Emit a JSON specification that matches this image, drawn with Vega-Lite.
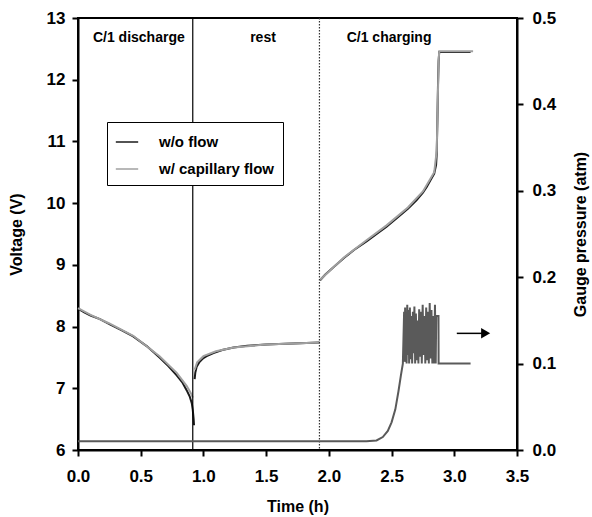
{
  "$schema": "https://vega.github.io/schema/vega-lite/v6.json",
  "width": 439,
  "height": 432,
  "autosize": {"type": "none"},
  "padding": {"left": 78, "top": 18, "right": 75, "bottom": 67},
  "background": "white",
  "config": {
    "font": "Liberation Sans",
    "view": {"stroke": "black", "strokeWidth": 2},
    "axis": {
      "grid": false,
      "domainColor": "black",
      "domainWidth": 2,
      "tickColor": "black",
      "tickWidth": 2,
      "tickSize": 6,
      "labelFont": "Liberation Sans",
      "labelFontSize": 17,
      "labelFontWeight": "bold",
      "labelColor": "black",
      "labelPadding": 7,
      "labelFlush": false,
      "titleFont": "Liberation Sans",
      "titleFontSize": 16,
      "titleFontWeight": "bold",
      "titleColor": "black"
    }
  },
  "datasets": {
    "voltage": [
      {"t": 0.0, "v": 8.29, "series": "w/o flow", "seg": 1},
      {"t": 0.05, "v": 8.23, "series": "w/o flow", "seg": 1},
      {"t": 0.1, "v": 8.18, "series": "w/o flow", "seg": 1},
      {"t": 0.175, "v": 8.12, "series": "w/o flow", "seg": 1},
      {"t": 0.25, "v": 8.04, "series": "w/o flow", "seg": 1},
      {"t": 0.35, "v": 7.94, "series": "w/o flow", "seg": 1},
      {"t": 0.44, "v": 7.84, "series": "w/o flow", "seg": 1},
      {"t": 0.55, "v": 7.68, "series": "w/o flow", "seg": 1},
      {"t": 0.65, "v": 7.5, "series": "w/o flow", "seg": 1},
      {"t": 0.72, "v": 7.36, "series": "w/o flow", "seg": 1},
      {"t": 0.787, "v": 7.21, "series": "w/o flow", "seg": 1},
      {"t": 0.83, "v": 7.1, "series": "w/o flow", "seg": 1},
      {"t": 0.866, "v": 6.97, "series": "w/o flow", "seg": 1},
      {"t": 0.89, "v": 6.87, "series": "w/o flow", "seg": 1},
      {"t": 0.907, "v": 6.76, "series": "w/o flow", "seg": 1},
      {"t": 0.915, "v": 6.65, "series": "w/o flow", "seg": 1},
      {"t": 0.922, "v": 6.5, "series": "w/o flow", "seg": 1},
      {"t": 0.925, "v": 6.4, "series": "w/o flow", "seg": 1},
      {"t": 0.93, "v": 7.15, "series": "w/o flow", "seg": 2},
      {"t": 0.935, "v": 7.25, "series": "w/o flow", "seg": 2},
      {"t": 0.946, "v": 7.35, "series": "w/o flow", "seg": 2},
      {"t": 0.97, "v": 7.43, "series": "w/o flow", "seg": 2},
      {"t": 1.0, "v": 7.49, "series": "w/o flow", "seg": 2},
      {"t": 1.026, "v": 7.52, "series": "w/o flow", "seg": 2},
      {"t": 1.08, "v": 7.57, "series": "w/o flow", "seg": 2},
      {"t": 1.15, "v": 7.62, "series": "w/o flow", "seg": 2},
      {"t": 1.24, "v": 7.66, "series": "w/o flow", "seg": 2},
      {"t": 1.35, "v": 7.69, "series": "w/o flow", "seg": 2},
      {"t": 1.5, "v": 7.71, "series": "w/o flow", "seg": 2},
      {"t": 1.65, "v": 7.72, "series": "w/o flow", "seg": 2},
      {"t": 1.77, "v": 7.73, "series": "w/o flow", "seg": 2},
      {"t": 1.925, "v": 7.74, "series": "w/o flow", "seg": 2},
      {"t": 1.93, "v": 8.75, "series": "w/o flow", "seg": 3},
      {"t": 1.97, "v": 8.84, "series": "w/o flow", "seg": 3},
      {"t": 2.03, "v": 8.95, "series": "w/o flow", "seg": 3},
      {"t": 2.12, "v": 9.11, "series": "w/o flow", "seg": 3},
      {"t": 2.2, "v": 9.24, "series": "w/o flow", "seg": 3},
      {"t": 2.3, "v": 9.38, "series": "w/o flow", "seg": 3},
      {"t": 2.4, "v": 9.53, "series": "w/o flow", "seg": 3},
      {"t": 2.46, "v": 9.62, "series": "w/o flow", "seg": 3},
      {"t": 2.55, "v": 9.77, "series": "w/o flow", "seg": 3},
      {"t": 2.63, "v": 9.91, "series": "w/o flow", "seg": 3},
      {"t": 2.7, "v": 10.05, "series": "w/o flow", "seg": 3},
      {"t": 2.75, "v": 10.17, "series": "w/o flow", "seg": 3},
      {"t": 2.78, "v": 10.26, "series": "w/o flow", "seg": 3},
      {"t": 2.81, "v": 10.37, "series": "w/o flow", "seg": 3},
      {"t": 2.84, "v": 10.48, "series": "w/o flow", "seg": 3},
      {"t": 2.855, "v": 10.62, "series": "w/o flow", "seg": 3},
      {"t": 2.86, "v": 10.8, "series": "w/o flow", "seg": 3},
      {"t": 2.865, "v": 11.3, "series": "w/o flow", "seg": 3},
      {"t": 2.87, "v": 11.9, "series": "w/o flow", "seg": 3},
      {"t": 2.875, "v": 12.3, "series": "w/o flow", "seg": 3},
      {"t": 2.88, "v": 12.45, "series": "w/o flow", "seg": 3},
      {"t": 3.13, "v": 12.45, "series": "w/o flow", "seg": 3},

      {"t": 0.0, "v": 8.3, "series": "w/ capillary flow", "seg": 1},
      {"t": 0.1, "v": 8.19, "series": "w/ capillary flow", "seg": 1},
      {"t": 0.25, "v": 8.05, "series": "w/ capillary flow", "seg": 1},
      {"t": 0.44, "v": 7.85, "series": "w/ capillary flow", "seg": 1},
      {"t": 0.65, "v": 7.52, "series": "w/ capillary flow", "seg": 1},
      {"t": 0.787, "v": 7.25, "series": "w/ capillary flow", "seg": 1},
      {"t": 0.866, "v": 7.04, "series": "w/ capillary flow", "seg": 1},
      {"t": 0.9, "v": 6.92, "series": "w/ capillary flow", "seg": 1},
      {"t": 0.915, "v": 6.85, "series": "w/ capillary flow", "seg": 1},
      {"t": 0.93, "v": 7.3, "series": "w/ capillary flow", "seg": 2},
      {"t": 0.95, "v": 7.42, "series": "w/ capillary flow", "seg": 2},
      {"t": 1.0, "v": 7.52, "series": "w/ capillary flow", "seg": 2},
      {"t": 1.1, "v": 7.6, "series": "w/ capillary flow", "seg": 2},
      {"t": 1.24, "v": 7.66, "series": "w/ capillary flow", "seg": 2},
      {"t": 1.5, "v": 7.71, "series": "w/ capillary flow", "seg": 2},
      {"t": 1.925, "v": 7.74, "series": "w/ capillary flow", "seg": 2},
      {"t": 1.93, "v": 8.76, "series": "w/ capillary flow", "seg": 3},
      {"t": 2.12, "v": 9.12, "series": "w/ capillary flow", "seg": 3},
      {"t": 2.3, "v": 9.4, "series": "w/ capillary flow", "seg": 3},
      {"t": 2.46, "v": 9.64, "series": "w/ capillary flow", "seg": 3},
      {"t": 2.63, "v": 9.93, "series": "w/ capillary flow", "seg": 3},
      {"t": 2.75, "v": 10.19, "series": "w/ capillary flow", "seg": 3},
      {"t": 2.84, "v": 10.5, "series": "w/ capillary flow", "seg": 3},
      {"t": 2.86, "v": 10.85, "series": "w/ capillary flow", "seg": 3},
      {"t": 2.875, "v": 12.3, "series": "w/ capillary flow", "seg": 3},
      {"t": 2.88, "v": 12.46, "series": "w/ capillary flow", "seg": 3},
      {"t": 3.15, "v": 12.46, "series": "w/ capillary flow", "seg": 3}
    ],
    "pressure": [
      {"t": 0.0, "p": 0.01},
      {"t": 2.3, "p": 0.01},
      {"t": 2.38, "p": 0.011},
      {"t": 2.43, "p": 0.015},
      {"t": 2.47, "p": 0.022},
      {"t": 2.5, "p": 0.032},
      {"t": 2.53, "p": 0.047},
      {"t": 2.555, "p": 0.068},
      {"t": 2.575, "p": 0.087},
      {"t": 2.59, "p": 0.1},
      {"t": 2.6, "p": 0.16},
      {"t": 2.604, "p": 0.102},
      {"t": 2.608, "p": 0.165},
      {"t": 2.612, "p": 0.105},
      {"t": 2.616, "p": 0.158},
      {"t": 2.62, "p": 0.1},
      {"t": 2.625, "p": 0.168},
      {"t": 2.63, "p": 0.11},
      {"t": 2.635, "p": 0.162},
      {"t": 2.64, "p": 0.1},
      {"t": 2.646, "p": 0.165},
      {"t": 2.652, "p": 0.105},
      {"t": 2.658, "p": 0.155},
      {"t": 2.664, "p": 0.1},
      {"t": 2.67, "p": 0.16},
      {"t": 2.676, "p": 0.112},
      {"t": 2.682, "p": 0.166},
      {"t": 2.688, "p": 0.1},
      {"t": 2.694, "p": 0.158},
      {"t": 2.7, "p": 0.104},
      {"t": 2.707, "p": 0.15},
      {"t": 2.714, "p": 0.1},
      {"t": 2.72, "p": 0.163},
      {"t": 2.727, "p": 0.108},
      {"t": 2.734, "p": 0.16},
      {"t": 2.741, "p": 0.1},
      {"t": 2.748, "p": 0.168},
      {"t": 2.755, "p": 0.11},
      {"t": 2.762, "p": 0.155},
      {"t": 2.769, "p": 0.1},
      {"t": 2.776, "p": 0.165},
      {"t": 2.783, "p": 0.104},
      {"t": 2.79, "p": 0.16},
      {"t": 2.797, "p": 0.1},
      {"t": 2.804, "p": 0.17},
      {"t": 2.811, "p": 0.106},
      {"t": 2.818, "p": 0.162},
      {"t": 2.825, "p": 0.1},
      {"t": 2.832, "p": 0.155},
      {"t": 2.839, "p": 0.1},
      {"t": 2.846, "p": 0.168},
      {"t": 2.852, "p": 0.1},
      {"t": 2.856, "p": 0.155},
      {"t": 2.874, "p": 0.155},
      {"t": 2.875, "p": 0.1},
      {"t": 3.13, "p": 0.1}
    ],
    "phases": [
      {"t": 0.485, "v": 12.68, "label": "C/1 discharge"},
      {"t": 1.475, "v": 12.68, "label": "rest"},
      {"t": 2.48, "v": 12.68, "label": "C/1 charging"}
    ],
    "arrow": [
      {"t": 3.02, "t2": 3.23, "p": 0.135}
    ],
    "arrowhead": [
      {"t": 3.25, "p": 0.135}
    ],
    "solidDivider": [{"t": 0.915}],
    "dottedDivider": [{"t": 1.925}]
  },
  "layer": [
    {
      "layer": [
        {
          "data": {"name": "voltage"},
          "mark": {"type": "line", "strokeWidth": 2},
          "encoding": {
            "x": {
              "field": "t", "type": "quantitative",
              "scale": {"domain": [0, 3.5], "nice": false},
              "axis": {"title": "Time (h)", "values": [0, 0.5, 1, 1.5, 2, 2.5, 3, 3.5], "format": ".1f", "labelPadding": 12, "titlePadding": 14}
            },
            "y": {
              "field": "v", "type": "quantitative",
              "scale": {"domain": [6, 13], "nice": false, "zero": false},
              "axis": {"title": "Voltage (V)", "values": [6, 7, 8, 9, 10, 11, 12, 13], "format": "d", "orient": "left", "titlePadding": 22}
            },
            "color": {
              "field": "series", "type": "nominal",
              "scale": {"domain": ["w/o flow", "w/ capillary flow"], "range": ["#1a1a1a", "#a0a0a0"]},
              "legend": {
                "title": null,
                "orient": "none",
                "legendX": 29,
                "legendY": 104,
                "symbolType": "stroke",
                "symbolSize": 500,
                "symbolStrokeWidth": 1.5,
                "labelFont": "Liberation Sans",
                "labelFontSize": 15,
                "labelFontWeight": "bold",
                "labelColor": "black",
                "labelOffset": 20,
                "rowPadding": 7,
                "padding": 8,
                "strokeColor": "black",
                "fillColor": "white"
              }
            },
            "detail": {"field": "seg", "type": "nominal"},
            "order": {"field": "t", "type": "quantitative"}
          }
        },
        {
          "data": {"name": "solidDivider"},
          "mark": {"type": "rule", "color": "black", "strokeWidth": 1.2},
          "encoding": {"x": {"field": "t", "type": "quantitative"}}
        },
        {
          "data": {"name": "dottedDivider"},
          "mark": {"type": "rule", "color": "#333", "strokeWidth": 1.2, "strokeDash": [1.5, 1.5]},
          "encoding": {"x": {"field": "t", "type": "quantitative"}}
        },
        {
          "data": {"name": "phases"},
          "mark": {"type": "text", "fontSize": 14, "fontWeight": "bold", "color": "black", "font": "Liberation Sans"},
          "encoding": {
            "x": {"field": "t", "type": "quantitative"},
            "y": {"field": "v", "type": "quantitative"},
            "text": {"field": "label"}
          }
        }
      ]
    },
    {
      "layer": [
        {
          "data": {"name": "pressure"},
          "mark": {"type": "line", "strokeWidth": 2, "color": "#5a5a5a"},
          "encoding": {
            "x": {"field": "t", "type": "quantitative"},
            "y": {
              "field": "p", "type": "quantitative",
              "scale": {"domain": [0, 0.5], "nice": false},
              "axis": {"title": "Gauge pressure (atm)", "orient": "right", "values": [0, 0.1, 0.2, 0.3, 0.4, 0.5], "format": ".1f", "titleAngle": -90, "titleBaseline": "top", "titlePadding": 17, "labelPadding": 9}
            },
            "order": {"field": "t", "type": "quantitative"}
          }
        },
        {
          "data": {"name": "arrow"},
          "mark": {"type": "rule", "color": "black", "strokeWidth": 1.5},
          "encoding": {
            "x": {"field": "t", "type": "quantitative"},
            "x2": {"field": "t2"},
            "y": {"field": "p", "type": "quantitative"}
          }
        },
        {
          "data": {"name": "arrowhead"},
          "mark": {"type": "point", "shape": "triangle-right", "filled": true, "color": "black", "size": 110, "opacity": 1},
          "encoding": {
            "x": {"field": "t", "type": "quantitative"},
            "y": {"field": "p", "type": "quantitative"}
          }
        }
      ]
    }
  ],
  "resolve": {"scale": {"y": "independent"}}
}
